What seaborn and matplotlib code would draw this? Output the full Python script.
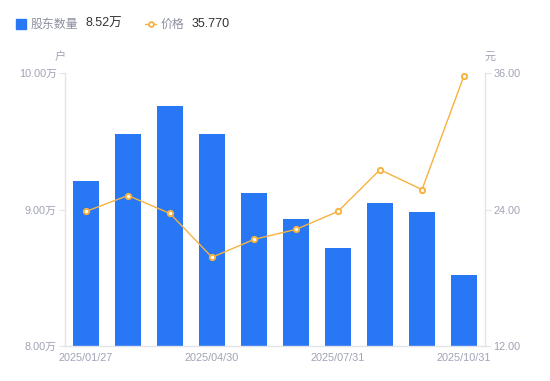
import numpy as np
import pandas as pd
import matplotlib
matplotlib.use("Agg")
import matplotlib.pyplot as plt
import seaborn as sns
from matplotlib.lines import Line2D

# --- data ---
dates = ["2025/01/27", "2025/02/28", "2025/03/31", "2025/04/30", "2025/05/30",
         "2025/06/30", "2025/07/31", "2025/08/29", "2025/09/30", "2025/10/31"]
holders = [9.21, 9.55, 9.76, 9.55, 9.12, 8.93, 8.72, 9.05, 8.98, 8.52]   # 万户
price = [23.83, 25.23, 23.65, 19.80, 21.37, 22.25, 23.83, 27.50, 25.75, 35.77]  # 元
shown_ticks = ["2025/01/27", "2025/04/30", "2025/07/31", "2025/10/31"]

BLUE = "#2877f5"
ORANGE = "#f7b240"
GRAY = "#a0a3b5"
SPINE = "#e3e4ea"

sns.set_theme(style="white")
plt.rcParams["font.family"] = ["Liberation Sans", "Noto Sans CJK SC", "DejaVu Sans"]

df = pd.DataFrame({"date": dates, "holders": holders, "price": price, "pos": np.arange(len(dates))})

fig = plt.figure(figsize=(5.5, 3.81), dpi=100)
ax = fig.add_axes([65 / 550, 1 - 346 / 381, 420 / 550, 273 / 381])

sns.barplot(data=df, x="date", y="holders", color=BLUE, width=0.6, ax=ax,
            saturation=1, edgecolor="none")
ax.set_ylim(8, 10)
ax.set_yticks([8, 9, 10])
ax.set_yticklabels(["8.00万", "9.00万", "10.00万"])
ax.set_xlim(-0.5, len(dates) - 0.5)
ax.set_xticks([dates.index(d) for d in shown_ticks])
ax.set_xticklabels(shown_ticks)
ax.set_xlabel("")
ax.set_ylabel("")

ax2 = ax.twinx()
sns.lineplot(data=df, x="pos", y="price", color=ORANGE, linewidth=1, ax=ax2,
             marker="o", markersize=3.8, markerfacecolor="white",
             markeredgecolor=ORANGE, markeredgewidth=1.4)
ax2.set_ylim(12, 36)
ax2.set_yticks([12, 24, 36])
ax2.set_yticklabels(["12.00", "24.00", "36.00"])
ax2.set_xlim(-0.5, len(dates) - 0.5)
ax2.set_xlabel("")
ax2.set_ylabel("")

for a in (ax, ax2):
    for s in a.spines.values():
        s.set_visible(False)
    a.tick_params(labelsize=7.8, labelcolor=GRAY, color=SPINE, length=4, width=0.8)
    a.grid(False)
ax.spines["left"].set_visible(True)
ax.spines["bottom"].set_visible(True)
ax2.spines["right"].set_visible(True)
for s in (ax.spines["left"], ax.spines["bottom"], ax2.spines["right"]):
    s.set_color(SPINE)
    s.set_linewidth(1)
ax.tick_params(axis="x", length=0, pad=5)
ax.tick_params(axis="y", pad=2)
ax2.tick_params(axis="y", pad=2)

# axis units
fig.text(60 / 550, 1 - 57 / 381, "户", fontsize=8, color=GRAY, ha="center", va="center",
         family=["Noto Sans CJK SC"])
fig.text(490 / 550, 1 - 57 / 381, "元", fontsize=8, color=GRAY, ha="center", va="center",
         family=["Noto Sans CJK SC"])

# legend row
ly = 1 - 24 / 381
fig.add_artist(Line2D([20.5 / 550], [ly], marker="s", markersize=6.5, color=BLUE,
                      linestyle="none", transform=fig.transFigure))
fig.text(31 / 550, ly, "股东数量", fontsize=8.6, color="#8c8f9e", va="center",
         family=["Noto Sans CJK SC"])
fig.text(85 / 550, ly, "8.52万", fontsize=9, color="#333333", va="center")
fig.add_artist(Line2D([145 / 550, 156 / 550], [ly, ly], color=ORANGE, linewidth=1,
                      transform=fig.transFigure))
fig.add_artist(Line2D([150.5 / 550], [ly], marker="o", markersize=3.5, color=ORANGE,
                      markerfacecolor="white", markeredgewidth=1.3, linestyle="none",
                      transform=fig.transFigure))
fig.text(161 / 550, ly, "价格", fontsize=8.6, color="#8c8f9e", va="center",
         family=["Noto Sans CJK SC"])
fig.text(192 / 550, ly, "35.770", fontsize=9, color="#333333", va="center")

fig.savefig("out.png", dpi=100)
